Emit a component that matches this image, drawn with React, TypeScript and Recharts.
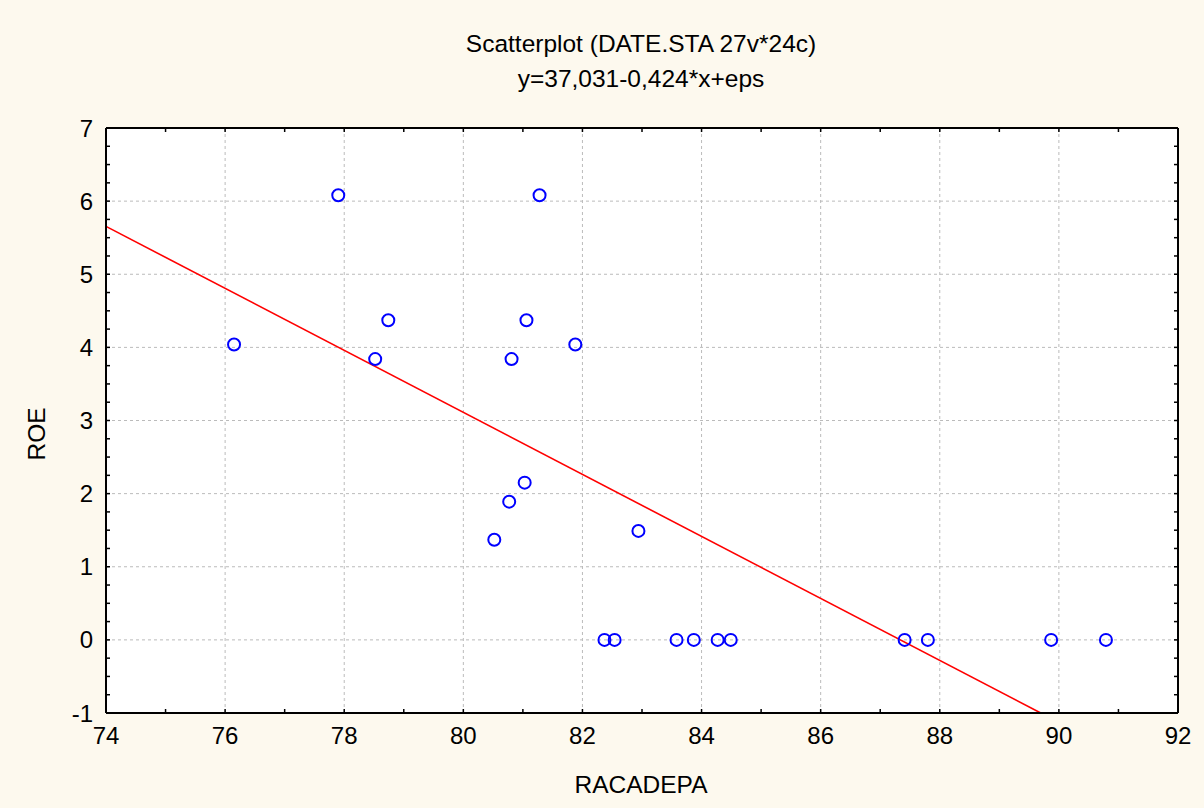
import React from 'react';
import { ScatterChart, Scatter, XAxis, YAxis, CartesianGrid, ReferenceLine } from 'recharts';

// RACADEPA (x) vs ROE (y)
const racadepa = [76.15, 77.9, 78.52, 78.74, 80.81, 81.06, 81.28, 81.88, 81.03, 80.77, 80.52, 82.94,
  82.37, 82.54, 83.58, 83.87, 84.27, 84.49, 87.41, 87.8, 89.87, 90.79];
const roe = [4.04, 6.08, 3.84, 4.37, 3.84, 4.37, 6.08, 4.04, 2.15, 1.89, 1.37, 1.49,
  0, 0, 0, 0, 0, 0, 0, 0, 0, 0];

// regression y = b0 + b1*x
const b0 = 37.031;
const b1 = -0.424;

const xTicks = [74, 76, 78, 80, 82, 84, 86, 88, 90, 92];
const yTicks = [-1, 0, 1, 2, 3, 4, 5, 6, 7];
const xMinorTicks = [74, 75, 76, 77, 78, 79, 80, 81, 82, 83, 84, 85, 86, 87, 88, 89, 90, 91, 92];
const yMinorTicks = [-1, -0.75, -0.5, -0.25, 0, 0.25, 0.5, 0.75, 1, 1.25, 1.5, 1.75, 2, 2.25, 2.5, 2.75,
  3, 3.25, 3.5, 3.75, 4, 4.25, 4.5, 4.75, 5, 5.25, 5.5, 5.75, 6, 6.25, 6.5, 6.75, 7];

const data = racadepa.map((x, i) => ({ x, y: roe[i] }));

const font = '"Liberation Sans", Arial, sans-serif';
const tickStyle = { fontSize: 24, fill: '#000', fontFamily: font };
const noLabel = () => <g />;
const minorLine = { stroke: '#000', strokeWidth: 1.5 };
const frame = { stroke: '#000', strokeWidth: 2 };

const Ring = (props: any) => (
  <circle cx={props.cx} cy={props.cy} r={6} fill="none" stroke="#0000ff" strokeWidth={2} />
);
// invisible series so the inner tick axes get a scale
const Nothing = () => <g />;

export default function App() {
  const yMin = -1;
  const xEnd = (b0 - yMin) / -b1;
  return (
    <div style={{ position: 'relative', width: 1204, height: 808, background: '#fdf9ee' }}>
      <style>{'body{margin:0}'}</style>
      <ScatterChart width={1204} height={808} margin={{ top: 128, right: 26, bottom: 55, left: 46 }}>
        <CartesianGrid stroke="#bbbbbb" strokeDasharray="3 3" fill="#ffffff" />
        <XAxis type="number" dataKey="x" domain={[74, 92]} ticks={xTicks} height={40} interval={0}
          tickLine={false} tickSize={0} tickMargin={14} tick={tickStyle}
          axisLine={frame} allowDataOverflow />
        <YAxis type="number" dataKey="y" domain={[-1, 7]} ticks={yTicks} width={60} interval={0}
          tickLine={false} tickSize={0} tickMargin={13} tick={tickStyle}
          axisLine={frame} allowDataOverflow />
        <XAxis xAxisId="bm" type="number" dataKey="x" orientation="bottom" mirror domain={[74, 92]} ticks={xMinorTicks}
          interval={0} tick={noLabel} tickSize={4} tickLine={minorLine} axisLine={false} allowDataOverflow />
        <XAxis xAxisId="tm" type="number" dataKey="x" orientation="top" mirror domain={[74, 92]} ticks={xMinorTicks}
          interval={0} tick={noLabel} tickSize={4} tickLine={minorLine} axisLine={frame} allowDataOverflow />
        <YAxis yAxisId="lm" type="number" dataKey="y" orientation="left" mirror domain={[-1, 7]} ticks={yMinorTicks}
          interval={0} tick={noLabel} tickSize={4} tickLine={minorLine} axisLine={false} allowDataOverflow />
        <YAxis yAxisId="rm" type="number" dataKey="y" orientation="right" mirror domain={[-1, 7]} ticks={yMinorTicks}
          interval={0} tick={noLabel} tickSize={4} tickLine={minorLine} axisLine={frame} allowDataOverflow />
        <ReferenceLine segment={[{ x: 74, y: b0 + b1 * 74 }, { x: xEnd, y: yMin }]}
          stroke="#ff0000" strokeWidth={1.6} />
        <Scatter xAxisId="bm" yAxisId="lm" data={data} shape={Nothing} isAnimationActive={false} />
        <Scatter xAxisId="tm" yAxisId="rm" data={data} shape={Nothing} isAnimationActive={false} />
        <Scatter data={data} shape={Ring} isAnimationActive={false} />
      </ScatterChart>
      <svg width={1204} height={808} style={{ position: 'absolute', left: 0, top: 0, pointerEvents: 'none' }}>
        <g fontFamily={font} fontSize={24.5} fill="#000" textAnchor="middle">
          <text x={641} y={52}>Scatterplot (DATE.STA 27v*24c)</text>
          <text x={641} y={87}>y=37,031-0,424*x+eps</text>
          <text x={641} y={793}>RACADEPA</text>
          <text transform="translate(45,434) rotate(-90)">ROE</text>
        </g>
      </svg>
    </div>
  );
}
